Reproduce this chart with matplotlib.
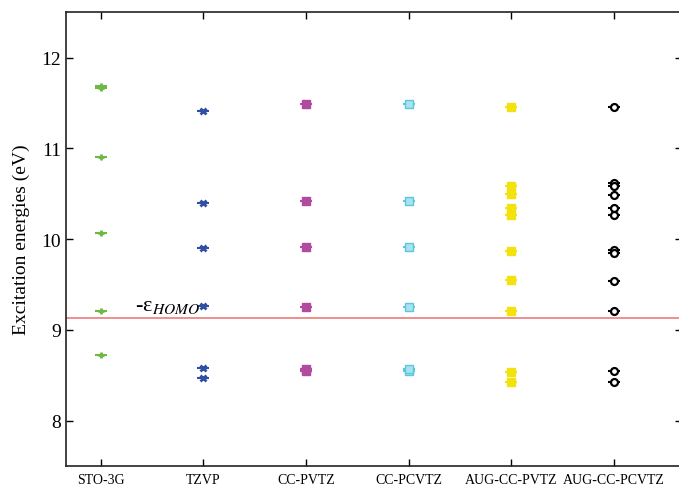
import matplotlib
matplotlib.use("Agg")
import matplotlib.pyplot as plt

plt.rcParams['font.family'] = ['Liberation Serif', 'DejaVu Serif']
plt.rcParams['mathtext.fontset'] = 'stix'

# basis sets on the x axis
basis = ['STO-3G', 'TZVP', 'CC-PVTZ', 'CC-PCVTZ', 'AUG-CC-PVTZ', 'AUG-CC-PCVTZ']

sto3g = [11.67, 11.69, 10.90, 10.07, 9.21, 8.72]
tzvp = [11.41, 10.40, 9.90, 9.26, 8.58, 8.465]
ccpvtz = [11.49, 10.42, 9.91, 9.25, 8.55, 8.57]
ccpcvtz = [11.49, 10.42, 9.91, 9.25, 8.55, 8.57]
augccpvtz = [11.45, 10.58, 10.50, 10.34, 10.27, 9.87, 9.55, 9.21, 8.54, 8.42]
augccpcvtz = [11.45, 10.62, 10.585, 10.49, 10.34, 10.27, 9.88, 9.85, 9.54, 9.21, 8.55, 8.425]

homo = 9.13

series = [sto3g, tzvp, ccpvtz, ccpcvtz, augccpvtz, augccpcvtz]
colors = ['#6cb944', '#2f4fa2', '#b04b9f', '#5ec6dc', '#f2e30e', '#000000']
markers = ['+', 'x', 's', 's', 's', 'o']
faces = [None, None, None, '#a8e3ee', None, 'white']

fig = plt.figure(figsize=(6.79, 4.89), dpi=100)
ax = fig.add_axes([0.097, 0.045, 0.907, 0.928])

for i, vals in enumerate(series):
    xs = [i + 1] * len(vals)
    # little horizontal dash behind each point
    ax.plot(xs, vals, ls='none', marker='_', ms=9, mew=1.5, color=colors[i], zorder=2)
    kw = dict(ls='none', marker=markers[i], color=colors[i], zorder=3)
    if markers[i] in ('+', 'x'):
        kw.update(ms=5, mew=2.0)
    elif markers[i] == 'o':
        kw.update(ms=5, mew=1.6, mfc=faces[i], mec=colors[i])
    else:
        kw.update(ms=5.3, mew=1.0)
        if faces[i]:
            kw.update(mfc=faces[i], mec=colors[i])
    ax.plot(xs, vals, **kw)

ax.axhline(homo, color='#ee7b7b', lw=1.2, zorder=1)
ax.text(1.33, 9.16, r'-ε$_{HOMO}$', fontsize=16, ha='left', va='bottom')

ax.set_xlim(0.66, 6.66)
ax.set_ylim(7.5, 12.5)
ax.set_xticks(range(1, len(basis) + 1))
ax.set_xticklabels(basis, fontsize=10)
ax.set_yticks([8, 9, 10, 11, 12])
ax.tick_params(axis='y', labelsize=14)
ax.tick_params(direction='in', top=True, right=True, length=5, width=1)
ax.tick_params(axis='x', pad=5)
ax.set_ylabel('Excitation energies (eV)', fontsize=14, labelpad=8)
for s in ax.spines.values():
    s.set_linewidth(1.2)
    s.set_color('#222222')

fig.savefig('out.png', dpi=100)
